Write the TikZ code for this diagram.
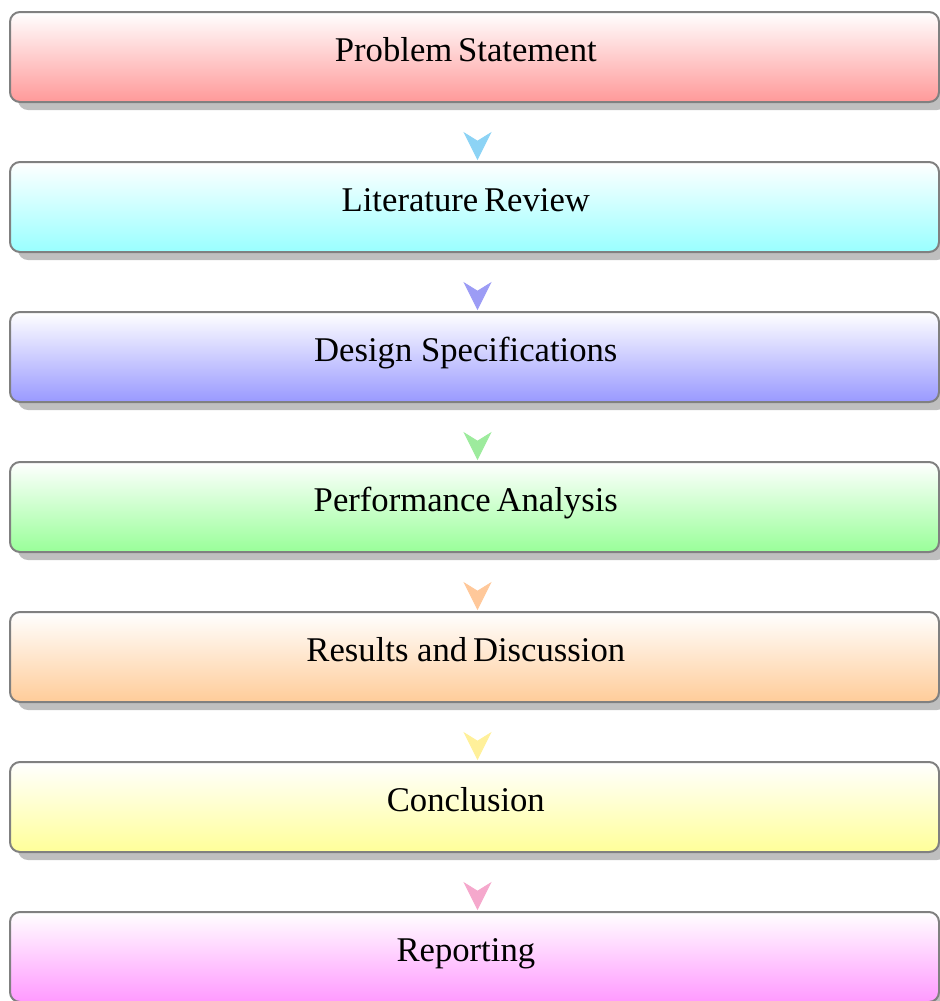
\documentclass[tikz,border=0pt]{standalone}
\usepackage{fontspec}
\setmainfont{Liberation Serif}
\usepackage{xcolor}
\usetikzlibrary{arrows.meta,shadows}
\usetikzlibrary{positioning}

\definecolor{stRed}{HTML}{FF9999}
\definecolor{stCyan}{HTML}{99FFFF}
\definecolor{stBlue}{HTML}{9999FF}
\definecolor{stGreen}{HTML}{99FF99}
\definecolor{stOrange}{HTML}{FFCC99}
\definecolor{stYellow}{HTML}{FFFF99}
\definecolor{stPink}{HTML}{FF99FF}
\definecolor{arSky}{HTML}{8CD3F5}
\definecolor{arBlue}{HTML}{9C9CF5}
\definecolor{arGreen}{HTML}{9DEB9D}
\definecolor{arOrange}{HTML}{FFC89A}
\definecolor{arYellow}{HTML}{FFF09A}
\definecolor{arPink}{HTML}{F5A8CC}

\begin{document}
\begin{tikzpicture}[x=0.75pt, y=-0.75pt, node distance={45pt},
	stage/.style = {draw=black!50, line width=1.5pt, rounded corners=7.5pt, minimum width=696.75pt, minimum height=67.5pt, outer sep=0pt, top color=white, bottom color=#1, drop shadow={shadow xshift=6pt, shadow yshift=-6pt, fill=black!25, opacity=1}, font=\fontsize{26}{30}\selectfont, text height=18pt, text depth=12pt, execute at begin node=\hspace*{-13pt}},
	flow/.style = {draw=#1, line width=0.6pt, -{Stealth[length=21pt, width=21pt, inset=6.5pt]}, shorten <=33.75pt, shorten >=1.5pt}]
		\useasboundingbox (0,0) rectangle (940,1001);
		\node[stage=stRed] (prob) at (474.5,57) {Problem\,Statement};
		\node[stage=stCyan] (lit) [below = of prob] {Literature\,Review};
		\node[stage=stBlue] (spec) [below = of lit] {Design Specifications};
		\node[stage=stGreen] (perf) [below = of spec] {Performance\,Analysis};
		\node[stage=stOrange] (res) [below = of perf] {Results and\,Discussion};
		\node[stage=stYellow] (conc) [below = of res] {Conclusion};
		\node[stage=stPink] (rep) [below = of conc] {Reporting};
		
		\begin{scope}
			\draw[flow=arSky] ([xshift=2.25pt]prob.south) -- ([xshift=2.25pt]lit.north);
			\draw[flow=arBlue] ([xshift=2.25pt]lit.south) -- ([xshift=2.25pt]spec.north);
			\draw[flow=arGreen] ([xshift=2.25pt]spec.south) -- ([xshift=2.25pt]perf.north);
			\draw[flow=arOrange] ([xshift=2.25pt]perf.south) -- ([xshift=2.25pt]res.north);
			\draw[flow=arYellow] ([xshift=2.25pt]res.south) -- ([xshift=2.25pt]conc.north);
			\draw[flow=arPink] ([xshift=2.25pt]conc.south) -- ([xshift=2.25pt]rep.north);
		\end{scope}
	\end{tikzpicture}
\end{document}
